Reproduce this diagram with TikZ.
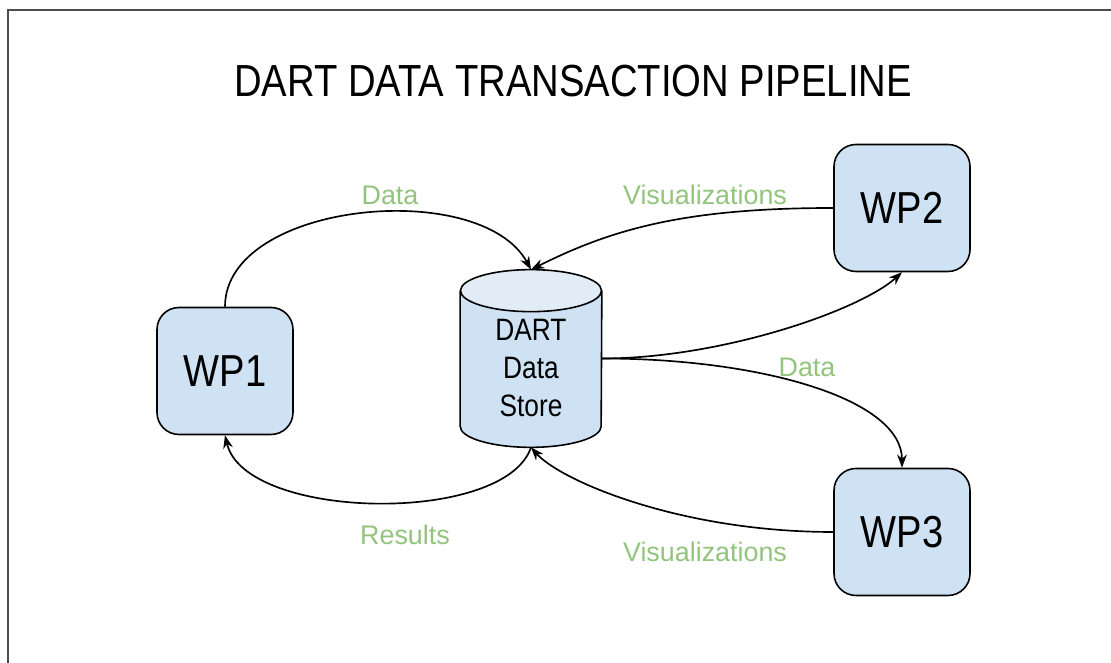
\documentclass[tikz,border=0pt]{standalone}
\usepackage{fontspec}
\setmainfont{Liberation Sans}
\newfontfamily\narrowsans{Liberation Sans}[FakeStretch=0.85]
\usetikzlibrary{arrows.meta}
\definecolor{boxblue}{HTML}{CFE2F3}
\definecolor{lidblue}{HTML}{E2ECF7}
\definecolor{labelgreen}{HTML}{93C47D}

\begin{document}
\begin{tikzpicture}[
    wpbox/.style={draw,fill=boxblue,rounded corners=0.44cm,line width=0.9pt,
      minimum width=2.72cm,minimum height=2.54cm,
      font=\narrowsans\fontsize{25.5}{30}\selectfont},
    storebox/.style={minimum width=2.82cm,minimum height=3.54cm,inner sep=0pt},
    storetext/.style={align=center,font=\narrowsans\fontsize{17.6}{21.5}\selectfont},
    flowlabel/.style={text=labelgreen,font=\fontsize{15.3}{18}\selectfont},
    flow/.style={line width=0.95pt,-{Stealth[length=7.5pt,width=5.5pt]}}]

    \useasboundingbox (0,0) rectangle (22.22,13.26);
    \clip (0,0) rectangle (22.22,13.26);

    % Outer frame (runs off the page on the right and bottom)
    \draw[black!70,line width=1.2pt] (0.16,13.06) rectangle (23,-1);

    % Title
    \node[font=\narrowsans\fontsize{25.6}{30}\selectfont] (title) at (11.46,11.64)
      {DART DATA TRANSACTION PIPELINE};

    %==================== Work packages ====================
    \node[wpbox] (wp1) at (4.5,5.84)  {WP1};
    \node[wpbox] (wp2) at (18.04,9.1) {WP2};
    \node[wpbox] (wp3) at (18.04,2.62) {WP3};

    %==================== Data store (cylinder) ====================
    \node[storebox] (store) at (10.62,6.09) {};
    \filldraw[fill=boxblue,line width=0.9pt]
      ([yshift=-0.42cm]store.north west) -- ([yshift=0.42cm]store.south west)
      arc[start angle=180,end angle=360,x radius=1.41cm,y radius=0.42cm]
      -- ([yshift=-0.42cm]store.north east);
    \filldraw[fill=lidblue,line width=0.9pt]
      ([yshift=-0.42cm]store.north) ellipse[x radius=1.41cm,y radius=0.42cm];
    \node[storetext] (storelbl) at ([yshift=-0.19cm]store.center) {DART\\Data\\Store};

    %==================== Flows ====================
    \draw[flow] (wp1.north) .. controls +(0,2.1) and +(-1.0,1.85) .. (store.north);
    \draw[flow] (wp2.west) .. controls +(-3,0) and +(1.6,0.8) .. (store.north);
    \draw[flow] (store.east) .. controls +(2.4,0) and +(-0.84,-0.76) .. (wp2.south);
    \draw[flow] (store.east) .. controls +(3.2,0) and +(0,1.37) .. (wp3.north);
    \draw[flow] (wp3.west) .. controls +(-3.08,0) and +(0.58,-0.66) .. (store.south);
    \draw[flow] (store.south) .. controls +(-0.52,-1.56) and +(0.4,-1.71) .. (wp1.south);

    % Flow labels
    \node[flowlabel] (data1)  at (7.8,9.36)  {Data};
    \node[flowlabel] (vis2)   at (14.1,9.36) {Visualizations};
    \node[flowlabel] (data3)  at (16.14,5.92) {Data};
    \node[flowlabel] (res1)   at (8.1,2.56)  {Results};
    \node[flowlabel] (vis3)   at (14.1,2.22) {Visualizations};

\end{tikzpicture}
\end{document}
